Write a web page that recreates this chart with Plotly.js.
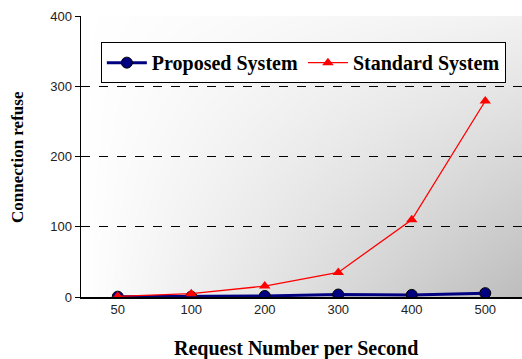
<!DOCTYPE html>
<html>
<head>
<meta charset="utf-8">
<script src="https://cdn.plot.ly/plotly-3.0.1.min.js"></script>
<style>html,body{margin:0;padding:0;overflow:hidden;background:#fff}#chart{width:522px;height:359px}</style>
</head>
<body>
<div id="chart"></div>
<script>
const categories = ["50", "100", "200", "300", "400", "500"];
const proposed = [0.5, 0.5, 1.5, 3.5, 3, 5.5];
const standard = [1, 4.7, 15.5, 35, 110, 279];
const seriesNames = ["Proposed System", "Standard System"];
const yTicks = [0, 100, 200, 300, 400];
const xTitle = "Request Number per Second";
const yTitle = "Connection refuse";

// background gradient for plot area
function makeBg(W, H) {
  const c = document.createElement('canvas');
  c.width = W; c.height = H;
  const ctx = c.getContext('2d');
  const img = ctx.createImageData(W, H);
  for (let y = 0; y < H; y++) {
    for (let x = 0; x < W; x++) {
      const u = x / (W - 1), v = y / (H - 1);
      const f = 0.2 * u + 0.8 * u * v;
      const g = Math.round(255 - 66 * f);
      const i = (y * W + x) * 4;
      img.data[i] = g; img.data[i + 1] = g; img.data[i + 2] = g; img.data[i + 3] = 255;
    }
  }
  ctx.putImageData(img, 0, 0);
  return c.toDataURL();
}

const serif = "Liberation Serif, Times New Roman, serif";
const sans = "Liberation Sans, Arial, sans-serif";

const data = [
  {
    x: categories, y: proposed, name: seriesNames[0], type: 'scatter', mode: 'lines+markers',
    line: {color: '#000080', width: 3},
    marker: {symbol: 'circle', size: 11, color: '#000080', line: {color: '#000', width: 1}}
  },
  {
    x: categories, y: standard, name: seriesNames[1], type: 'scatter', mode: 'lines+markers',
    line: {color: '#ff0000', width: 1.3},
    marker: {symbol: 'triangle-up', size: 10, color: '#ff0000'}
  }
];

const layout = {
  width: 522, height: 359,
  margin: {l: 81, r: 0, t: 16, b: 62},
  paper_bgcolor: '#fff',
  plot_bgcolor: 'rgba(0,0,0,0)',
  showlegend: true,
  legend: {
    orientation: 'h', x: 0.045, y: 0.907, xanchor: 'left', yanchor: 'top',
    bgcolor: '#fff', bordercolor: '#000', borderwidth: 1,
    font: {family: serif, size: 20, color: '#000', weight: 'bold'},
    itemwidth: 40
  },
  xaxis: {
    type: 'category', range: [-0.5, 5.5],
    showgrid: false, zeroline: false,
    showline: true, linecolor: '#000', linewidth: 1.5,
    ticks: '', tickfont: {family: sans, size: 13, color: '#222'}
  },
  yaxis: {
    range: [0, 400], tickvals: yTicks, ticktext: yTicks.map(String),
    showgrid: true, gridcolor: '#000', gridwidth: 1, griddash: 'dash',
    zeroline: false,
    showline: true, linecolor: '#000', linewidth: 1.5,
    ticks: 'outside', ticklen: 5, tickcolor: '#000',
    tickfont: {family: sans, size: 13, color: '#222'}
  },
  images: [{
    source: makeBg(441, 281), xref: 'paper', yref: 'paper', x: 0, y: 1, sizex: 1, sizey: 1,
    xanchor: 'left', yanchor: 'top', sizing: 'stretch', layer: 'below'
  }],
  annotations: [
    {
      text: yTitle, textangle: -90, xref: 'paper', yref: 'paper',
      x: (17 - 81) / 441, y: (297 - 157) / 281, xanchor: 'center', yanchor: 'middle', showarrow: false,
      font: {family: serif, size: 17, color: '#000', weight: 'bold'}
    },
    {
      text: xTitle, xref: 'paper', yref: 'paper',
      x: (296 - 81) / 441, y: (297 - 348) / 281, xanchor: 'center', yanchor: 'middle', showarrow: false,
      font: {family: serif, size: 20, color: '#000', weight: 'bold'}
    }
  ]
};

Plotly.newPlot('chart', data, layout, {displayModeBar: false, staticPlot: true});
</script>
</body>
</html>
